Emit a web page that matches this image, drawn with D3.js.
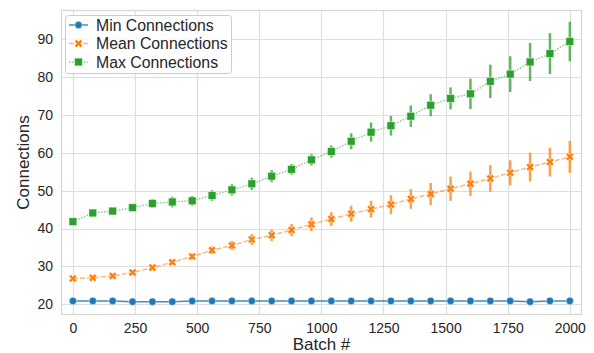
<!DOCTYPE html>
<html>
<head>
<meta charset="utf-8">
<script src="https://cdn.jsdelivr.net/npm/d3@7"></script>
<style>
  body { margin: 0; background: #fff; }
  text { font-family: "Liberation Sans", Arial, sans-serif; fill: #262626; }
</style>
</head>
<body>
<div id="chart"></div>
<script>
var width = 594,
    height = 353,
    margin = { top: 10, right: 12, bottom: 38, left: 61 };

// data
var batches = [0, 80, 160, 240, 320, 400, 480, 560, 640, 720, 800, 880, 960,
    1040, 1120, 1200, 1280, 1360, 1440, 1520, 1600, 1680, 1760, 1840, 1920, 2000];
var minConn = [20.9, 20.9, 20.9, 20.7, 20.7, 20.7, 20.9, 20.9, 20.9, 20.9, 20.9, 20.9, 20.9,
    20.9, 20.9, 20.9, 20.9, 20.9, 20.9, 20.9, 20.9, 20.9, 20.9, 20.7, 20.9, 20.9];
var meanConn = [26.8, 27.0, 27.5, 28.4, 29.7, 31.1, 32.6, 34.3, 35.5, 37.1, 38.2, 39.6, 41.1,
    42.5, 43.9, 45.1, 46.3, 47.8, 49.1, 50.5, 51.8, 53.2, 54.7, 56.2, 57.5, 58.9];
var meanErr = [0.3, 0.3, 0.4, 0.4, 0.5, 0.6, 0.8, 1.0, 1.2, 1.4, 1.5, 1.6, 1.8,
    1.8, 2.1, 2.2, 2.5, 2.6, 2.9, 3.2, 3.2, 3.5, 3.3, 3.8, 3.8, 4.2];
var maxConn = [41.8, 44.1, 44.6, 45.5, 46.6, 47.0, 47.3, 48.7, 50.2, 51.8, 53.8, 55.6, 58.1,
    60.3, 63.0, 65.4, 67.1, 69.6, 72.5, 74.3, 75.5, 78.8, 80.7, 83.9, 86.1, 89.3];
var maxErr = [0.2, 0.3, 0.4, 0.7, 1.2, 1.4, 1.3, 1.4, 1.5, 1.6, 1.6, 1.4, 1.5,
    1.6, 2.1, 2.5, 2.6, 2.8, 2.9, 2.9, 4.0, 4.4, 4.7, 5.0, 5.4, 5.2];
var xTicks = [0, 250, 500, 750, 1000, 1250, 1500, 1750, 2000];
var yTicks = [20, 30, 40, 50, 60, 70, 80, 90];
var seriesNames = ["Min Connections", "Mean Connections", "Max Connections"];

var series = [
    { name: seriesNames[0], values: minConn, err: null, color: "#1f77b4", dash: null, marker: "circle" },
    { name: seriesNames[1], values: meanConn, err: meanErr, color: "#ff7f0e", dash: "5,2", marker: "x" },
    { name: seriesNames[2], values: maxConn, err: maxErr, color: "#2ca02c", dash: "1.5,1.5", marker: "square" }
];

var svg = d3.select("#chart").append("svg")
    .attr("width", width)
    .attr("height", height);

var x = d3.scaleLinear()
    .domain([-48, 2049])
    .range([margin.left, width - margin.right]);

var y = d3.scaleLinear()
    .domain([17.2, 97.6])
    .range([height - margin.bottom, margin.top]);

// grid
svg.append("g")
    .selectAll("line.vg")
    .data(xTicks)
    .enter().append("line")
    .attr("x1", d => Math.round(x(d)) + 0.5)
    .attr("x2", d => Math.round(x(d)) + 0.5)
    .attr("y1", margin.top)
    .attr("y2", height - margin.bottom)
    .attr("stroke", "#dedede")
    .attr("stroke-width", 1.2);

svg.append("g")
    .selectAll("line.hg")
    .data(yTicks)
    .enter().append("line")
    .attr("y1", d => Math.round(y(d)) + 0.5)
    .attr("y2", d => Math.round(y(d)) + 0.5)
    .attr("x1", margin.left)
    .attr("x2", width - margin.right)
    .attr("stroke", "#dedede")
    .attr("stroke-width", 1.2);

// frame
svg.append("rect")
    .attr("x", margin.left + 0.5)
    .attr("y", margin.top + 0.5)
    .attr("width", width - margin.left - margin.right - 1)
    .attr("height", height - margin.top - margin.bottom - 1)
    .attr("fill", "none")
    .attr("stroke", "#d6d6d6")
    .attr("stroke-width", 1.2);

// tick labels via axes without domain/ticks lines
var xAxis = d3.axisBottom(x).tickValues(xTicks).tickFormat(d3.format("d")).tickSize(0).tickPadding(8);
svg.append("g")
    .attr("transform", "translate(0," + (height - margin.bottom) + ")")
    .call(xAxis)
    .call(g => g.select(".domain").remove())
    .selectAll("text")
    .style("font-size", "14px")
    .attr("fill", "#262626");

var yAxis = d3.axisLeft(y).tickValues(yTicks).tickSize(0).tickPadding(8);
svg.append("g")
    .attr("transform", "translate(" + margin.left + ",0)")
    .call(yAxis)
    .call(g => g.select(".domain").remove())
    .selectAll("text")
    .style("font-size", "14px")
    .attr("fill", "#262626");

// axis labels
svg.append("text")
    .attr("x", (margin.left + width - margin.right) / 2)
    .attr("y", 350)
    .attr("text-anchor", "middle")
    .style("font-size", "17px")
    .text("Batch #");

svg.append("text")
    .attr("transform", "translate(29," + ((margin.top + height - margin.bottom) / 2) + ") rotate(-90)")
    .attr("text-anchor", "middle")
    .style("font-size", "17px")
    .text("Connections");

function drawMarker(g, type, color) {
    if (type == "circle") {
        g.append("circle").attr("r", 3.7)
            .attr("fill", color).attr("stroke", "#fff").attr("stroke-opacity", 0.6).attr("stroke-width", 0.8);
    } else if (type == "square") {
        g.append("rect").attr("x", -3.9).attr("y", -3.9).attr("width", 7.8).attr("height", 7.8)
            .attr("fill", color).attr("stroke", "#fff").attr("stroke-opacity", 0.6).attr("stroke-width", 0.8);
    } else {
        g.append("path")
            .attr("d", d3.symbol(d3.symbolCross, 40)())
            .attr("transform", "rotate(45)")
            .attr("fill", color).attr("stroke", "#fff").attr("stroke-opacity", 0.6).attr("stroke-width", 0.8);
    }
}

var line = d3.line()
    .x((d, i) => x(batches[i]))
    .y(d => y(d));

series.forEach(function (s) {
    var g = svg.append("g");
    g.append("path")
        .datum(s.values)
        .attr("d", line)
        .attr("fill", "none")
        .attr("stroke", s.color)
        .attr("stroke-opacity", s.marker == "circle" ? 0.85 : 0.55)
        .attr("stroke-width", 1.5)
        .attr("stroke-dasharray", s.dash);

    if (s.err) {
        g.selectAll(".err")
            .data(s.values)
            .enter().append("line")
            .attr("x1", (d, i) => x(batches[i]))
            .attr("x2", (d, i) => x(batches[i]))
            .attr("y1", (d, i) => y(d - s.err[i]))
            .attr("y2", (d, i) => y(d + s.err[i]))
            .attr("stroke", s.color)
            .attr("stroke-opacity", 0.75)
            .attr("stroke-width", 2.5);
    }

    g.selectAll(".pt")
        .data(s.values)
        .enter().append("g")
        .attr("transform", (d, i) => "translate(" + x(batches[i]) + "," + y(d) + ")")
        .each(function () { drawMarker(d3.select(this), s.marker, s.color); });
});

// legend
var legend = svg.append("g");
legend.append("rect")
    .attr("x", 65.5)
    .attr("y", 15.5)
    .attr("width", 166)
    .attr("height", 58)
    .attr("rx", 3)
    .attr("fill", "#fff")
    .attr("fill-opacity", 0.8)
    .attr("stroke", "#cccccc");

series.forEach(function (s, i) {
    var ly = 25 + i * 18.5;
    legend.append("line")
        .attr("x1", 69).attr("x2", 88)
        .attr("y1", ly).attr("y2", ly)
        .attr("stroke", s.color)
        .attr("stroke-opacity", s.marker == "circle" ? 0.85 : 0.55)
        .attr("stroke-width", 1.5)
        .attr("stroke-dasharray", s.dash);
    var m = legend.append("g").attr("transform", "translate(78.5," + ly + ")");
    drawMarker(m, s.marker, s.color);
    legend.append("text")
        .attr("x", 96)
        .attr("y", ly + 5.5)
        .style("font-size", "15.8px")
        .text(s.name);
});
</script>
</body>
</html>
